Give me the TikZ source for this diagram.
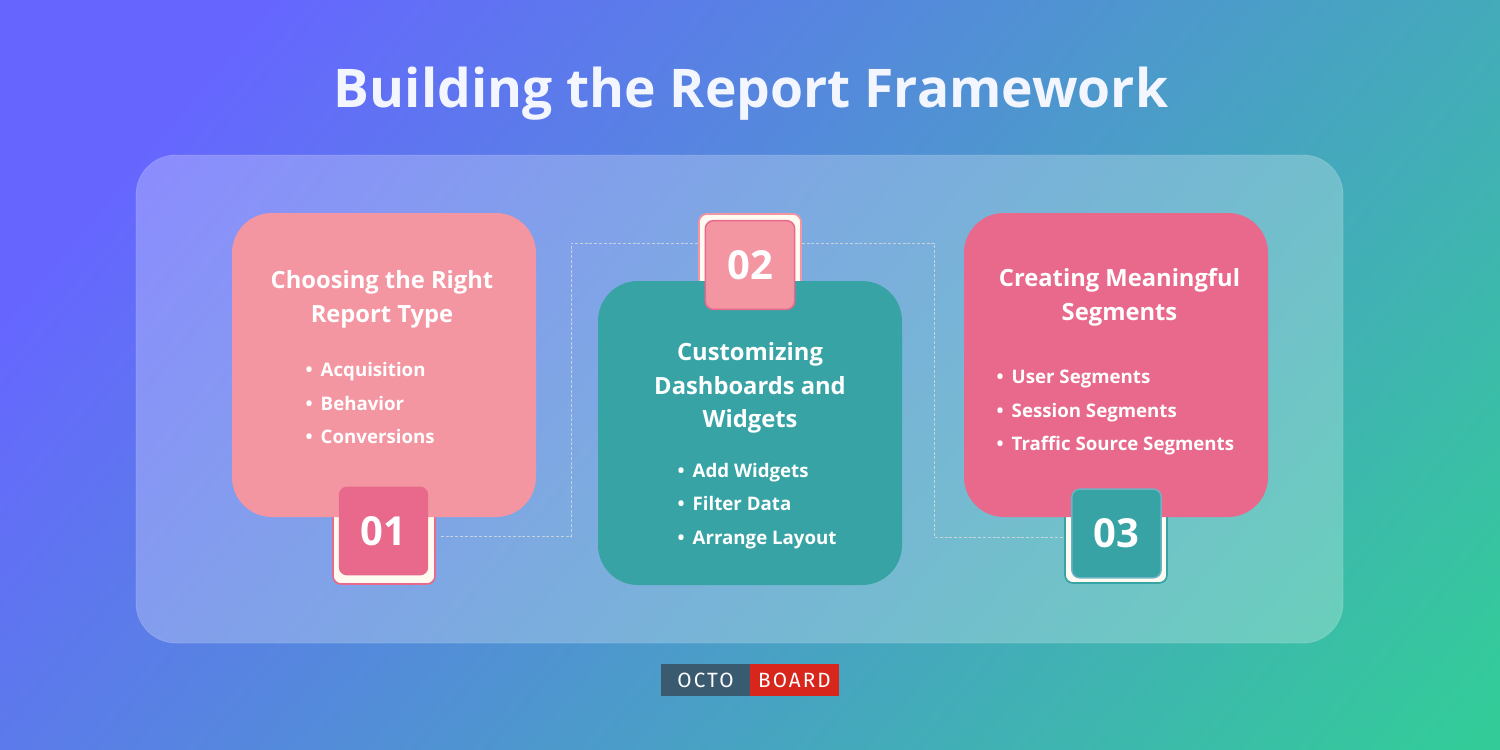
\documentclass[tikz,border=0pt]{standalone}
\usepackage{fontspec}
\setmainfont{Open Sans}
\newfontfamily\logofont{Fira Sans}[LetterSpace=10]
\usetikzlibrary{positioning,backgrounds}

\definecolor{bgblue}{RGB}{102,102,255}
\definecolor{bggreen}{RGB}{51,204,153}
\definecolor{rose}{RGB}{243,150,162}
\definecolor{crimson}{RGB}{232,105,140}
\definecolor{teal}{RGB}{56,163,165}
\definecolor{tealedge}{RGB}{106,181,197}
\definecolor{cream}{RGB}{255,251,240}
\definecolor{logodark}{RGB}{58,90,112}
\definecolor{logored}{RGB}{217,38,28}
\definecolor{titlewhite}{RGB}{243,246,255}

\pgfdeclarehorizontalshading{bgshade}{100bp}{
  color(0bp)=(bgblue); color(33bp)=(bgblue); color(72bp)=(bggreen); color(100bp)=(bggreen)}

\begin{document}
\begin{tikzpicture}[
  x=0.75pt,y=-0.75pt,
  card/.style={rounded corners=30pt,minimum size=228pt,inner sep=0pt},
  numback/.style={draw,line width=1.3pt,fill=cream,rounded corners=6pt,minimum width=76.5pt,minimum height=72pt,inner sep=0pt},
  numfront/.style={rounded corners=6pt,line width=1.1pt,minimum width=67pt,minimum height=66.5pt,inner sep=0pt,text=white,font=\fontsize{30}{30}\selectfont\bfseries},
  headline/.style={text=white,align=center,font=\fontsize{17.8}{25.2}\selectfont\bfseries},
  itemlist/.style={text=white,align=left,font=\fontsize{14}{25}\selectfont\bfseries,anchor=west},
  link/.style={draw=white!75!gray,opacity=0.75,dash pattern=on 2.2pt off 1.4pt,line width=0.7pt},
  logopart/.style={minimum width=66.75pt,minimum height=24pt,inner sep=0pt,outer sep=0pt,text=white,font=\logofont\fontsize{15.5}{15.5}\selectfont}
]
  \useasboundingbox (0,0) rectangle (1500,750);
  \begin{scope}
    \clip (0,0) rectangle (1500,750);
    \shade[shading=bgshade,shading angle=-40] (-150,-525) rectangle (1650,1275);
  \end{scope}

  % panel
  \fill[white,opacity=0.25,rounded corners=30pt] (136,155) rectangle (1343,643);
  \draw[white,opacity=0.15,rounded corners=30pt,line width=0.7pt] (136,155) rectangle (1343,643);

  \node[font=\fontsize{40}{40}\selectfont\bfseries,text=titlewhite] (title) at (751,93.5) {Building the Report Framework};

  % links
  \coordinate (elbowA) at (571,243);
  \coordinate (elbowB) at (934,243);
  \coordinate (elbowC) at (934,537);

  % backs of the number tiles
  \node[numback,draw=crimson] (backA) at (384,536) {};
  \node[numback,draw=rose] (backB) at (750,262) {};
  \node[numback,draw=teal] (backC) at (1116,535) {};

  \draw[link] ([xshift=3.75pt]backA.east) -| (elbowA) -- (backB.west |- elbowA);
  \draw[link] (backB.east |- elbowB) -- (elbowB) |- (elbowC) -- (backC.west |- elbowC);

  % cards
  \node[card,fill=rose] (cardA) at (384,365) {};
  \node[card,fill=teal] (cardB) at (750,433) {};
  \node[card,fill=crimson] (cardC) at (1116,365) {};

  % number tiles
  \node[numfront,fill=crimson] (numA) at (383.5,531) {01};
  \node[numfront,fill=rose,draw=crimson] (numB) at (750,265) {02};
  \node[numfront,fill=teal,draw=tealedge] (numC) at (1116.5,533.5) {03};

  % card texts
  \node[headline] (headA) at (382,299.5) {Choosing the Right\\Report Type};
  \node[itemlist] (listA) at (301,403) {\textbullet\hspace{6pt}Acquisition\\\textbullet\hspace{6pt}Behavior\\\textbullet\hspace{6pt}Conversions};

  \node[headline] (headB) at (750,388) {Customizing\\Dashboards and\\Widgets};
  \node[itemlist] (listB) at (673,506) {\textbullet\hspace{6pt}Add Widgets\\\textbullet\hspace{6pt}Filter Data\\\textbullet\hspace{6pt}Arrange Layout};

  \node[headline] (headC) at (1119.5,297.5) {Creating Meaningful\\Segments};
  \node[itemlist] (listC) at (992,412.5) {\textbullet\hspace{6pt}User Segments\\\textbullet\hspace{6pt}Session Segments\\\textbullet\hspace{6pt}Traffic Source Segments};

  % logo
  \node[logopart,fill=logodark] (octo) at (705.5,680) {OCTO};
  \node[logopart,fill=logored,right=0pt of octo] (board) {BOARD};
\end{tikzpicture}
\end{document}
